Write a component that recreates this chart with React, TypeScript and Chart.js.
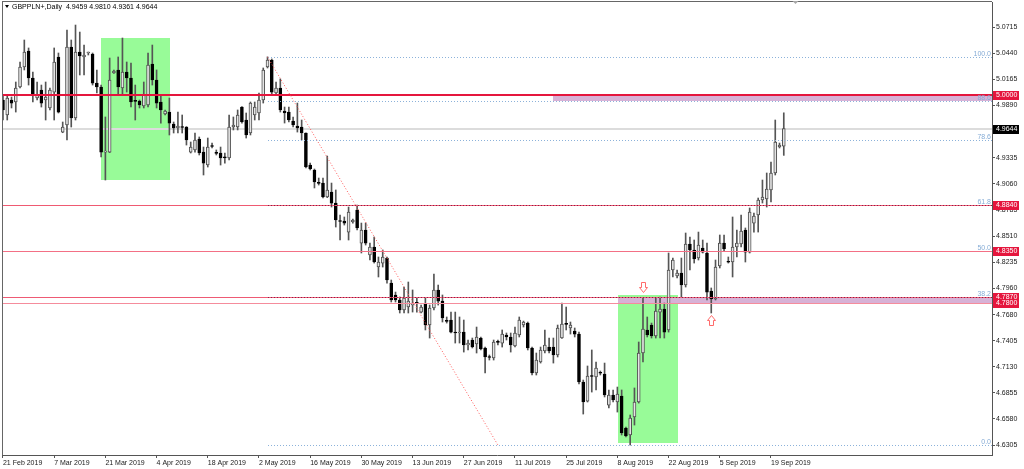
import React, { useEffect, useRef } from 'react';
import { Chart, registerables } from 'chart.js';

Chart.register(...registerables);

const symbol = 'GBPPLN+';
const timeframe = 'Daily';

const opens = [
  4.9945, 4.9787, 4.9945, 4.9924, 5.0082, 5.0293, 5.0462, 5.0177, 4.9966, 5.0051, 4.9945, 4.9861,
  5.0029, 5.0399, 4.9607, 4.9681, 5.0504, 4.9755, 5.0451, 5.0399, 5.0441, 5.0430, 5.0124, 5.0082,
  4.9396, 4.9396, 5.0230, 5.0262, 5.0072, 5.0240, 5.0177, 4.9934, 4.9934, 4.9882, 4.9892, 5.0325,
  5.0156, 4.9924, 4.9797, 4.9818, 4.9692, 4.9650, 4.9660, 4.9660, 4.9396, 4.9418, 4.9534, 4.9396,
  4.9259, 4.9460, 4.9386, 4.9386, 4.9339, 4.9333, 4.9660, 4.9660, 4.9871, 4.9734, 4.9597, 4.9787,
  4.9808, 4.9945, 5.0293, 5.0367, 5.0019, 5.0072, 4.9829, 4.9818, 4.9723, 4.9671, 4.9660, 4.9597,
  4.9259, 4.9207, 4.9069, 4.9069, 4.8922, 4.8974, 4.8858, 4.8668, 4.8668, 4.8552, 4.8658, 4.8785,
  4.8436, 4.8574, 4.8310, 4.8394, 4.8183, 4.8225, 4.8278, 4.8014, 4.7888, 4.7835, 4.7730, 4.7761,
  4.7782, 4.7803, 4.7708, 4.7793, 4.7571, 4.7751, 4.7941, 4.7824, 4.7613, 4.7624, 4.7497, 4.7487,
  4.7497, 4.7360, 4.7413, 4.7371, 4.7434, 4.7329, 4.7234, 4.7223, 4.7392, 4.7381, 4.7466, 4.7445,
  4.7350, 4.7466, 4.7571, 4.7592, 4.7329, 4.7065, 4.7181, 4.7297, 4.7339, 4.7339, 4.7255, 4.7434,
  4.7582, 4.7540, 4.7508, 4.7476, 4.6970, 4.6769, 4.7033, 4.7023, 4.7065, 4.7054, 4.6727, 4.6833,
  4.6759, 4.6822, 4.6485, 4.6411, 4.6601, 4.6759, 4.7276, 4.7519, 4.7571, 4.7455, 4.7708, 4.7740,
  4.7519, 4.8152, 4.8088, 4.8120, 4.7993, 4.8426, 4.8363, 4.8278, 4.8384, 4.8331, 4.7930, 4.7846,
  4.8194, 4.8436, 4.8236, 4.8236, 4.8394, 4.8426, 4.8574, 4.8341, 4.8647, 4.8732, 4.8890, 4.8901,
  4.8996, 4.9175, 4.9449, 4.9459,
];

const highs = [
  4.9998, 4.9998, 4.9977, 5.0135, 5.0346, 5.0578, 5.0494, 5.0240, 5.0135, 5.0103, 5.0135, 5.0072,
  5.0494, 5.0441, 4.9713, 5.0684, 5.0578, 5.0736, 5.0662, 5.0525, 5.0451, 5.0441, 5.0262, 5.0103,
  4.9766, 5.0388, 5.0262, 5.0399, 5.0599, 5.0346, 5.0335, 5.0103, 4.9945, 5.0135, 5.0441, 5.0525,
  5.0262, 4.9998, 4.9840, 4.9966, 4.9713, 4.9818, 4.9787, 4.9665, 4.9502, 4.9597, 4.9555, 4.9449,
  4.9544, 4.9491, 4.9418, 4.9449, 4.9386, 4.9787, 4.9766, 4.9840, 4.9875, 4.9808, 4.9924, 4.9924,
  5.0019, 5.0283, 5.0400, 5.0378, 5.0135, 5.0167, 4.9871, 4.9871, 4.9766, 4.9913, 4.9734, 4.9600,
  4.9280, 4.9217, 4.9122, 4.9122, 4.9354, 4.9069, 4.8996, 4.8732, 4.8711, 4.8816, 4.8690, 4.8837,
  4.8647, 4.8647, 4.8436, 4.8500, 4.8289, 4.8363, 4.8289, 4.8046, 4.7919, 4.7867, 4.7972, 4.8025,
  4.7941, 4.7856, 4.7782, 4.7856, 4.7782, 4.8109, 4.7993, 4.7888, 4.7656, 4.7708, 4.7708, 4.7656,
  4.7624, 4.7413, 4.7434, 4.7550, 4.7445, 4.7339, 4.7255, 4.7413, 4.7413, 4.7519, 4.7487, 4.7487,
  4.7550, 4.7656, 4.7613, 4.7603, 4.7339, 4.7276, 4.7339, 4.7519, 4.7434, 4.7434, 4.7571, 4.7803,
  4.7761, 4.7603, 4.7540, 4.7497, 4.6991, 4.7139, 4.7308, 4.7181, 4.7086, 4.7170, 4.6886, 4.6886,
  4.6917, 4.6886, 4.6495, 4.6622, 4.6907, 4.7392, 4.7856, 4.7656, 4.7592, 4.7856, 4.7867, 4.7803,
  4.8331, 4.8278, 4.8152, 4.8278, 4.8542, 4.8500, 4.8468, 4.8552, 4.8468, 4.8436, 4.7962, 4.8257,
  4.8521, 4.8521, 4.8289, 4.8711, 4.8574, 4.8732, 4.8595, 4.8806, 4.8753, 4.8911, 4.9101, 4.9175,
  4.9291, 4.9734, 4.9491, 4.9810,
];

const lows = [
  4.9734, 4.9734, 4.9861, 4.9818, 5.0072, 5.0262, 5.0103, 4.9924, 4.9945, 4.9871, 4.9734, 4.9840,
  4.9734, 4.9808, 4.9600, 4.9523, 4.9660, 4.9734, 5.0209, 5.0209, 5.0420, 5.0103, 5.0019, 4.9344,
  4.9101, 4.9390, 5.0225, 4.9998, 4.9998, 5.0029, 4.9871, 4.9734, 4.9861, 4.9861, 4.9871, 5.0103,
  4.9861, 4.9702, 4.9787, 4.9576, 4.9597, 4.9597, 4.9597, 4.9470, 4.9386, 4.9396, 4.9365, 4.9154,
  4.9238, 4.9439, 4.9365, 4.9259, 4.9280, 4.9312, 4.9629, 4.9629, 4.9702, 4.9544, 4.9576, 4.9734,
  4.9734, 4.9913, 5.0283, 4.9998, 4.9998, 4.9818, 4.9702, 4.9713, 4.9660, 4.9607, 4.9523, 4.9228,
  4.9207, 4.9017, 4.9048, 4.8911, 4.8915, 4.8816, 4.8605, 4.8468, 4.8626, 4.8468, 4.8647, 4.8574,
  4.8331, 4.8415, 4.8257, 4.8225, 4.8078, 4.8183, 4.8014, 4.7814, 4.7814, 4.7698, 4.7698, 4.7698,
  4.7708, 4.7708, 4.7698, 4.7519, 4.7434, 4.7730, 4.7782, 4.7603, 4.7592, 4.7487, 4.7381, 4.7381,
  4.7286, 4.7308, 4.7329, 4.7276, 4.7308, 4.7065, 4.7202, 4.7202, 4.7360, 4.7339, 4.7413, 4.7286,
  4.7339, 4.7445, 4.7550, 4.7308, 4.7044, 4.7044, 4.7170, 4.7276, 4.7276, 4.7170, 4.7234, 4.7430,
  4.7519, 4.7476, 4.7445, 4.6949, 4.6632, 4.6759, 4.6864, 4.6886, 4.7044, 4.6812, 4.6696, 4.6759,
  4.6653, 4.6411, 4.6390, 4.6305, 4.6516, 4.6748, 4.7181, 4.7445, 4.7434, 4.7434, 4.7434, 4.7434,
  4.7497, 4.8078, 4.8067, 4.7867, 4.7972, 4.8152, 4.8225, 4.8257, 4.8331, 4.7835, 4.7698, 4.7835,
  4.8173, 4.8352, 4.8225, 4.8078, 4.8289, 4.8394, 4.8236, 4.8331, 4.8552, 4.8552, 4.8858, 4.8816,
  4.8869, 4.9154, 4.9439, 4.9361,
];

const closes = [
  4.9840, 4.9966, 4.9913, 5.0072, 5.0293, 5.0451, 5.0177, 4.9998, 4.9998, 4.9913, 4.9977, 5.0051,
  5.0346, 4.9818, 4.9660, 5.0504, 4.9755, 5.0451, 5.0409, 5.0420, 5.0441, 5.0124, 5.0082, 4.9396,
  4.9400, 5.0156, 5.0251, 5.0082, 5.0240, 5.0177, 4.9924, 4.9930, 4.9892, 4.9998, 5.0314, 5.0156,
  4.9913, 4.9840, 4.9829, 4.9702, 4.9650, 4.9671, 4.9655, 4.9523, 4.9449, 4.9523, 4.9386, 4.9280,
  4.9449, 4.9455, 4.9382, 4.9333, 4.9335, 4.9660, 4.9681, 4.9787, 4.9713, 4.9576, 4.9913, 4.9871,
  4.9945, 5.0262, 5.0367, 5.0029, 5.0072, 4.9840, 4.9808, 4.9734, 4.9681, 4.9650, 4.9597, 4.9238,
  4.9217, 4.9080, 4.9065, 4.8922, 4.8996, 4.8858, 4.8679, 4.8663, 4.8647, 4.8763, 4.8679, 4.8595,
  4.8574, 4.8436, 4.8394, 4.8236, 4.8236, 4.8289, 4.8046, 4.7835, 4.7835, 4.7730, 4.7856, 4.7824,
  4.7803, 4.7800, 4.7761, 4.7571, 4.7751, 4.7941, 4.7824, 4.7645, 4.7610, 4.7497, 4.7487, 4.7497,
  4.7360, 4.7381, 4.7339, 4.7445, 4.7318, 4.7234, 4.7229, 4.7392, 4.7388, 4.7476, 4.7445, 4.7360,
  4.7487, 4.7624, 4.7603, 4.7329, 4.7065, 4.7202, 4.7308, 4.7360, 4.7297, 4.7255, 4.7540, 4.7582,
  4.7578, 4.7571, 4.7476, 4.6970, 4.6759, 4.7033, 4.7028, 4.7118, 4.7062, 4.6833, 4.6833, 4.6780,
  4.6843, 4.6432, 4.6400, 4.6590, 4.6759, 4.7276, 4.7529, 4.7466, 4.7455, 4.7719, 4.7740, 4.7497,
  4.8152, 4.8257, 4.8120, 4.7993, 4.8426, 4.8363, 4.8268, 4.8415, 4.8341, 4.7919, 4.7846, 4.8183,
  4.8436, 4.8373, 4.8233, 4.8394, 4.8436, 4.8563, 4.8341, 4.8763, 4.8721, 4.8890, 4.8922, 4.9006,
  4.9175, 4.9502, 4.9470, 4.9644,
];

const dateLabels = [
  '21 Feb 2019', '7 Mar 2019', '21 Mar 2019', '4 Apr 2019', '18 Apr 2019', '2 May 2019',
  '16 May 2019', '30 May 2019', '13 Jun 2019', '27 Jun 2019', '11 Jul 2019', '25 Jul 2019',
  '8 Aug 2019', '22 Aug 2019', '5 Sep 2019', '19 Sep 2019',
];
const dateTickBars = [0, 12, 24, 36, 48, 60, 72, 84, 96, 108, 120, 132, 144, 156, 168, 180];

const priceTicks = [
  5.0715, 5.044, 5.0165, 4.989, 4.961, 4.9335, 4.906, 4.8785, 4.851, 4.8235, 4.796, 4.768,
  4.7405, 4.713, 4.6855, 4.658, 4.6305,
];

const xRange = [-0.23, 231.8];
const yRange = [4.62, 5.0979];

const resistanceLevel = 5.0;
const currentPrice = 4.9644;
const supportLevels = [4.884, 4.835, 4.787, 4.78];
const supportColors = ['#ef5a72', '#f37085', '#ee5a74', '#f58c9c'];

const fibLow = 4.6305;
const fibHigh = 5.04;
const fibStartBar = 62;
const fibEndBar = 116;
const fibLevels = [0, 38.2, 50.0, 61.8, 78.6, 88.6, 100.0];
const fibLineColors = ['#8cb2da', '#8a1e46', null, '#8a1e46', '#8cb2da', '#8cb2da', '#8cb2da'];

const greenZoneBars = [[22.97, 39.06], [144.05, 158.0]];
const greenZonePrices = [[4.9101, 5.0599], [4.6325, 4.789]];

const pinkZoneStartBars = [128.9, 144.05];
const pinkZonePrices = [[4.9934, 5.0], [4.78, 4.787]];

const arrowBars = [150, 166];
const arrowPrices = [4.7923, 4.7677];
const arrowDirections = ['down', 'up'];

const shiftMarkerBar = 185.6;

const FONT = '"Liberation Sans", Arial, sans-serif';

const overlayPlugin = {
  id: 'mt4Overlay',
  beforeDatasetsDraw(chart: any) {
    const { ctx, chartArea: a, scales } = chart;
    const x = scales.x;
    const y = scales.y;
    ctx.save();
    ctx.beginPath();
    ctx.rect(a.left, a.top, a.right - a.left, a.bottom - a.top);
    ctx.clip();
    ctx.fillStyle = '#98fb98';
    greenZoneBars.forEach((b, i) => {
      const x0 = x.getPixelForValue(b[0]);
      const x1 = x.getPixelForValue(b[1]);
      const y0 = y.getPixelForValue(greenZonePrices[i][1]);
      const y1 = y.getPixelForValue(greenZonePrices[i][0]);
      ctx.fillRect(Math.round(x0), Math.round(y0), Math.round(x1 - x0), Math.round(y1 - y0));
    });
    ctx.fillStyle = '#d7b2d6';
    pinkZoneStartBars.forEach((b, i) => {
      const x0 = x.getPixelForValue(b);
      const y0 = y.getPixelForValue(pinkZonePrices[i][1]);
      const y1 = y.getPixelForValue(pinkZonePrices[i][0]);
      ctx.fillRect(Math.round(x0), Math.round(y0), a.right - Math.round(x0), Math.round(y1 - y0));
    });
    const cy = Math.round(y.getPixelForValue(currentPrice));
    ctx.fillStyle = '#dcdcdc';
    ctx.fillRect(a.left, cy - 1, a.right - a.left, 2);
    ctx.restore();
  },
  afterDatasetsDraw(chart: any) {
    const { ctx, chartArea: a, scales } = chart;
    const x = scales.x;
    const y = scales.y;
    ctx.save();
    ctx.beginPath();
    ctx.rect(a.left, a.top, a.right - a.left, a.bottom - a.top);
    ctx.clip();
    supportLevels.forEach((lv, i) => {
      const py = Math.round(y.getPixelForValue(lv));
      ctx.fillStyle = supportColors[i];
      ctx.fillRect(a.left, py, a.right - a.left, 1);
    });
    const ry = Math.round(y.getPixelForValue(resistanceLevel));
    ctx.fillStyle = '#e5163d';
    ctx.fillRect(a.left, ry - 1, a.right - a.left, 2);

    // fibonacci levels (dotted)
    const fx0 = Math.round(x.getPixelForValue(fibStartBar));
    fibLevels.forEach((lv, i) => {
      const price = fibLow + ((fibHigh - fibLow) * lv) / 100;
      const py = Math.round(y.getPixelForValue(price));
      const col = fibLineColors[i];
      if (col) {
        ctx.fillStyle = col;
        for (let px = fx0; px < a.right; px += 3) ctx.fillRect(px, py, 1, 1);
      }
    });
    // fib diagonal
    ctx.strokeStyle = '#ff5a5a';
    ctx.lineWidth = 1;
    ctx.setLineDash([1, 2]);
    ctx.beginPath();
    ctx.moveTo(x.getPixelForValue(fibStartBar), y.getPixelForValue(fibHigh));
    ctx.lineTo(x.getPixelForValue(fibEndBar), y.getPixelForValue(fibLow));
    ctx.stroke();
    ctx.setLineDash([]);

    ctx.font = `7px ${FONT}`;
    ctx.fillStyle = '#86acd6';
    ctx.textAlign = 'right';
    ctx.textBaseline = 'bottom';
    fibLevels.forEach((lv) => {
      const price = fibLow + ((fibHigh - fibLow) * lv) / 100;
      const py = Math.round(y.getPixelForValue(price));
      ctx.fillText(lv.toFixed(1), a.right - 1, py + 0.5);
    });

    arrowBars.forEach((b, i) => {
      const cx = Math.round(x.getPixelForValue(b)) + 0.5;
      const ty = Math.round(y.getPixelForValue(arrowPrices[i])) + 0.5;
      const d = arrowDirections[i] === 'down' ? -1 : 1;
      ctx.beginPath();
      ctx.moveTo(cx, ty);
      ctx.lineTo(cx + 4, ty + d * 5);
      ctx.lineTo(cx + 2, ty + d * 5);
      ctx.lineTo(cx + 2, ty + d * 10);
      ctx.lineTo(cx - 2, ty + d * 10);
      ctx.lineTo(cx - 2, ty + d * 5);
      ctx.lineTo(cx - 4, ty + d * 5);
      ctx.closePath();
      ctx.fillStyle = '#ffffff';
      ctx.fill();
      ctx.strokeStyle = '#ff6b6b';
      ctx.lineWidth = 1;
      ctx.stroke();
    });
    ctx.restore();
  },
  afterDraw(chart: any) {
    const { ctx, chartArea: a, scales } = chart;
    const x = scales.x;
    const y = scales.y;
    ctx.save();
    ctx.fillStyle = '#666666';
    ctx.fillRect(a.left, a.top - 1, 1, a.bottom - a.top + 1);
    ctx.fillRect(a.left, a.top - 1, a.right - a.left, 1);

    ctx.fillStyle = '#000000';
    ctx.beginPath();
    ctx.moveTo(5, 5);
    ctx.lineTo(9, 5);
    ctx.lineTo(7, 8);
    ctx.closePath();
    ctx.fill();
    const n = closes.length - 1;
    const title = `${symbol},${timeframe}  ${opens[n].toFixed(4)} ${highs[n].toFixed(4)} ${lows[n].toFixed(4)} ${closes[n].toFixed(4)}`;
    ctx.font = `7px ${FONT}`;
    ctx.textAlign = 'left';
    ctx.textBaseline = 'middle';
    ctx.fillText(title, 12, 7.5);

    const sx = Math.round(x.getPixelForValue(shiftMarkerBar)) + 0.5;
    ctx.fillStyle = '#a8a8a8';
    ctx.beginPath();
    ctx.moveTo(sx - 3, 1);
    ctx.lineTo(sx + 3, 1);
    ctx.lineTo(sx, 4);
    ctx.closePath();
    ctx.fill();

    const boxes: [number, string][] = [
      [resistanceLevel, '#e5163d'],
      [currentPrice, '#000000'],
      ...supportLevels.map((v) => [v, '#e5163d'] as [number, string]),
    ];
    ctx.font = `7px ${FONT}`;
    ctx.textBaseline = 'middle';
    boxes.forEach(([v, col]) => {
      const py = Math.round(y.getPixelForValue(v));
      ctx.fillStyle = col;
      ctx.fillRect(a.right + 1, py - 4, 26, 9);
      ctx.fillStyle = '#ffffff';
      ctx.fillText(v.toFixed(4), a.right + 4, py + 0.5);
    });
    ctx.restore();
  },
};

export default function App() {
  const canvasRef = useRef<HTMLCanvasElement | null>(null);

  useEffect(() => {
    const canvas = canvasRef.current;
    if (!canvas) return;
    const idx = closes.map((_, i) => i);
    const bull = idx.map((i) => closes[i] >= opens[i]);

    const chart = new Chart(canvas, {
      type: 'bar',
      data: {
        datasets: [
          {
            label: 'body',
            data: idx.map((i) => ({ x: i, y: [opens[i], closes[i]] })) as any,
            backgroundColor: bull.map((b) => (b ? '#e4e4e4' : '#000000')),
            borderColor: bull.map((b) => (b ? '#505050' : '#000000')),
            borderWidth: 1,
            borderSkipped: false,
            barThickness: 3,
            minBarLength: 1,
            grouped: false,
            order: 0,
          },
          {
            label: 'wick',
            data: idx.map((i) => ({ x: i, y: [lows[i], highs[i]] })) as any,
            backgroundColor: '#555555',
            borderWidth: 0,
            barThickness: 1,
            grouped: false,
            order: 1,
          },
        ],
      },
      options: {
        responsive: false,
        animation: false,
        events: [],
        layout: { padding: { left: 2, top: 2, right: 0, bottom: 0 } },
        plugins: {
          legend: { display: false },
          tooltip: { enabled: false },
          title: { display: false },
        },
        scales: {
          x: {
            type: 'linear',
            min: xRange[0],
            max: xRange[1],
            offset: false,
            position: 'bottom',
            grid: {
              display: true,
              drawOnChartArea: false,
              drawTicks: true,
              tickLength: 3,
              color: '#555555',
              offset: false,
            },
            border: { display: true, color: '#555555' },
            afterBuildTicks: (scale: any) => {
              scale.ticks = dateTickBars.map((v) => ({ value: v }));
            },
            afterFit: (scale: any) => {
              scale.height = 14;
              scale.paddingLeft = 0;
              scale.paddingRight = 0;
            },
            ticks: {
              autoSkip: false,
              maxRotation: 0,
              minRotation: 0,
              align: 'start',
              padding: 1,
              color: '#1a1a1a',
              font: { family: FONT, size: 7 },
              callback: (v: any) => {
                const k = dateTickBars.indexOf(Number(v));
                return k >= 0 ? dateLabels[k] : '';
              },
            },
          },
          y: {
            type: 'linear',
            position: 'right',
            min: yRange[0],
            max: yRange[1],
            grid: {
              display: true,
              drawOnChartArea: false,
              drawTicks: true,
              tickLength: 3,
              color: '#555555',
            },
            border: { display: true, color: '#555555' },
            afterBuildTicks: (scale: any) => {
              scale.ticks = priceTicks.map((v) => ({ value: v }));
            },
            afterFit: (scale: any) => {
              scale.width = 32;
              scale.paddingTop = 0;
              scale.paddingBottom = 0;
            },
            ticks: {
              autoSkip: false,
              padding: 1,
              color: '#1a1a1a',
              font: { family: FONT, size: 7 },
              callback: (v: any) => Number(v).toFixed(4),
            },
          },
        },
      } as any,
      plugins: [overlayPlugin],
    });
    return () => chart.destroy();
  }, []);

  return (
    <div style={{ position: 'absolute', left: 0, top: 0, width: 1024, height: 469, background: '#ffffff' }}>
      <canvas ref={canvasRef} width={1024} height={469} style={{ display: 'block', width: 1024, height: 469 }} />
    </div>
  );
}
